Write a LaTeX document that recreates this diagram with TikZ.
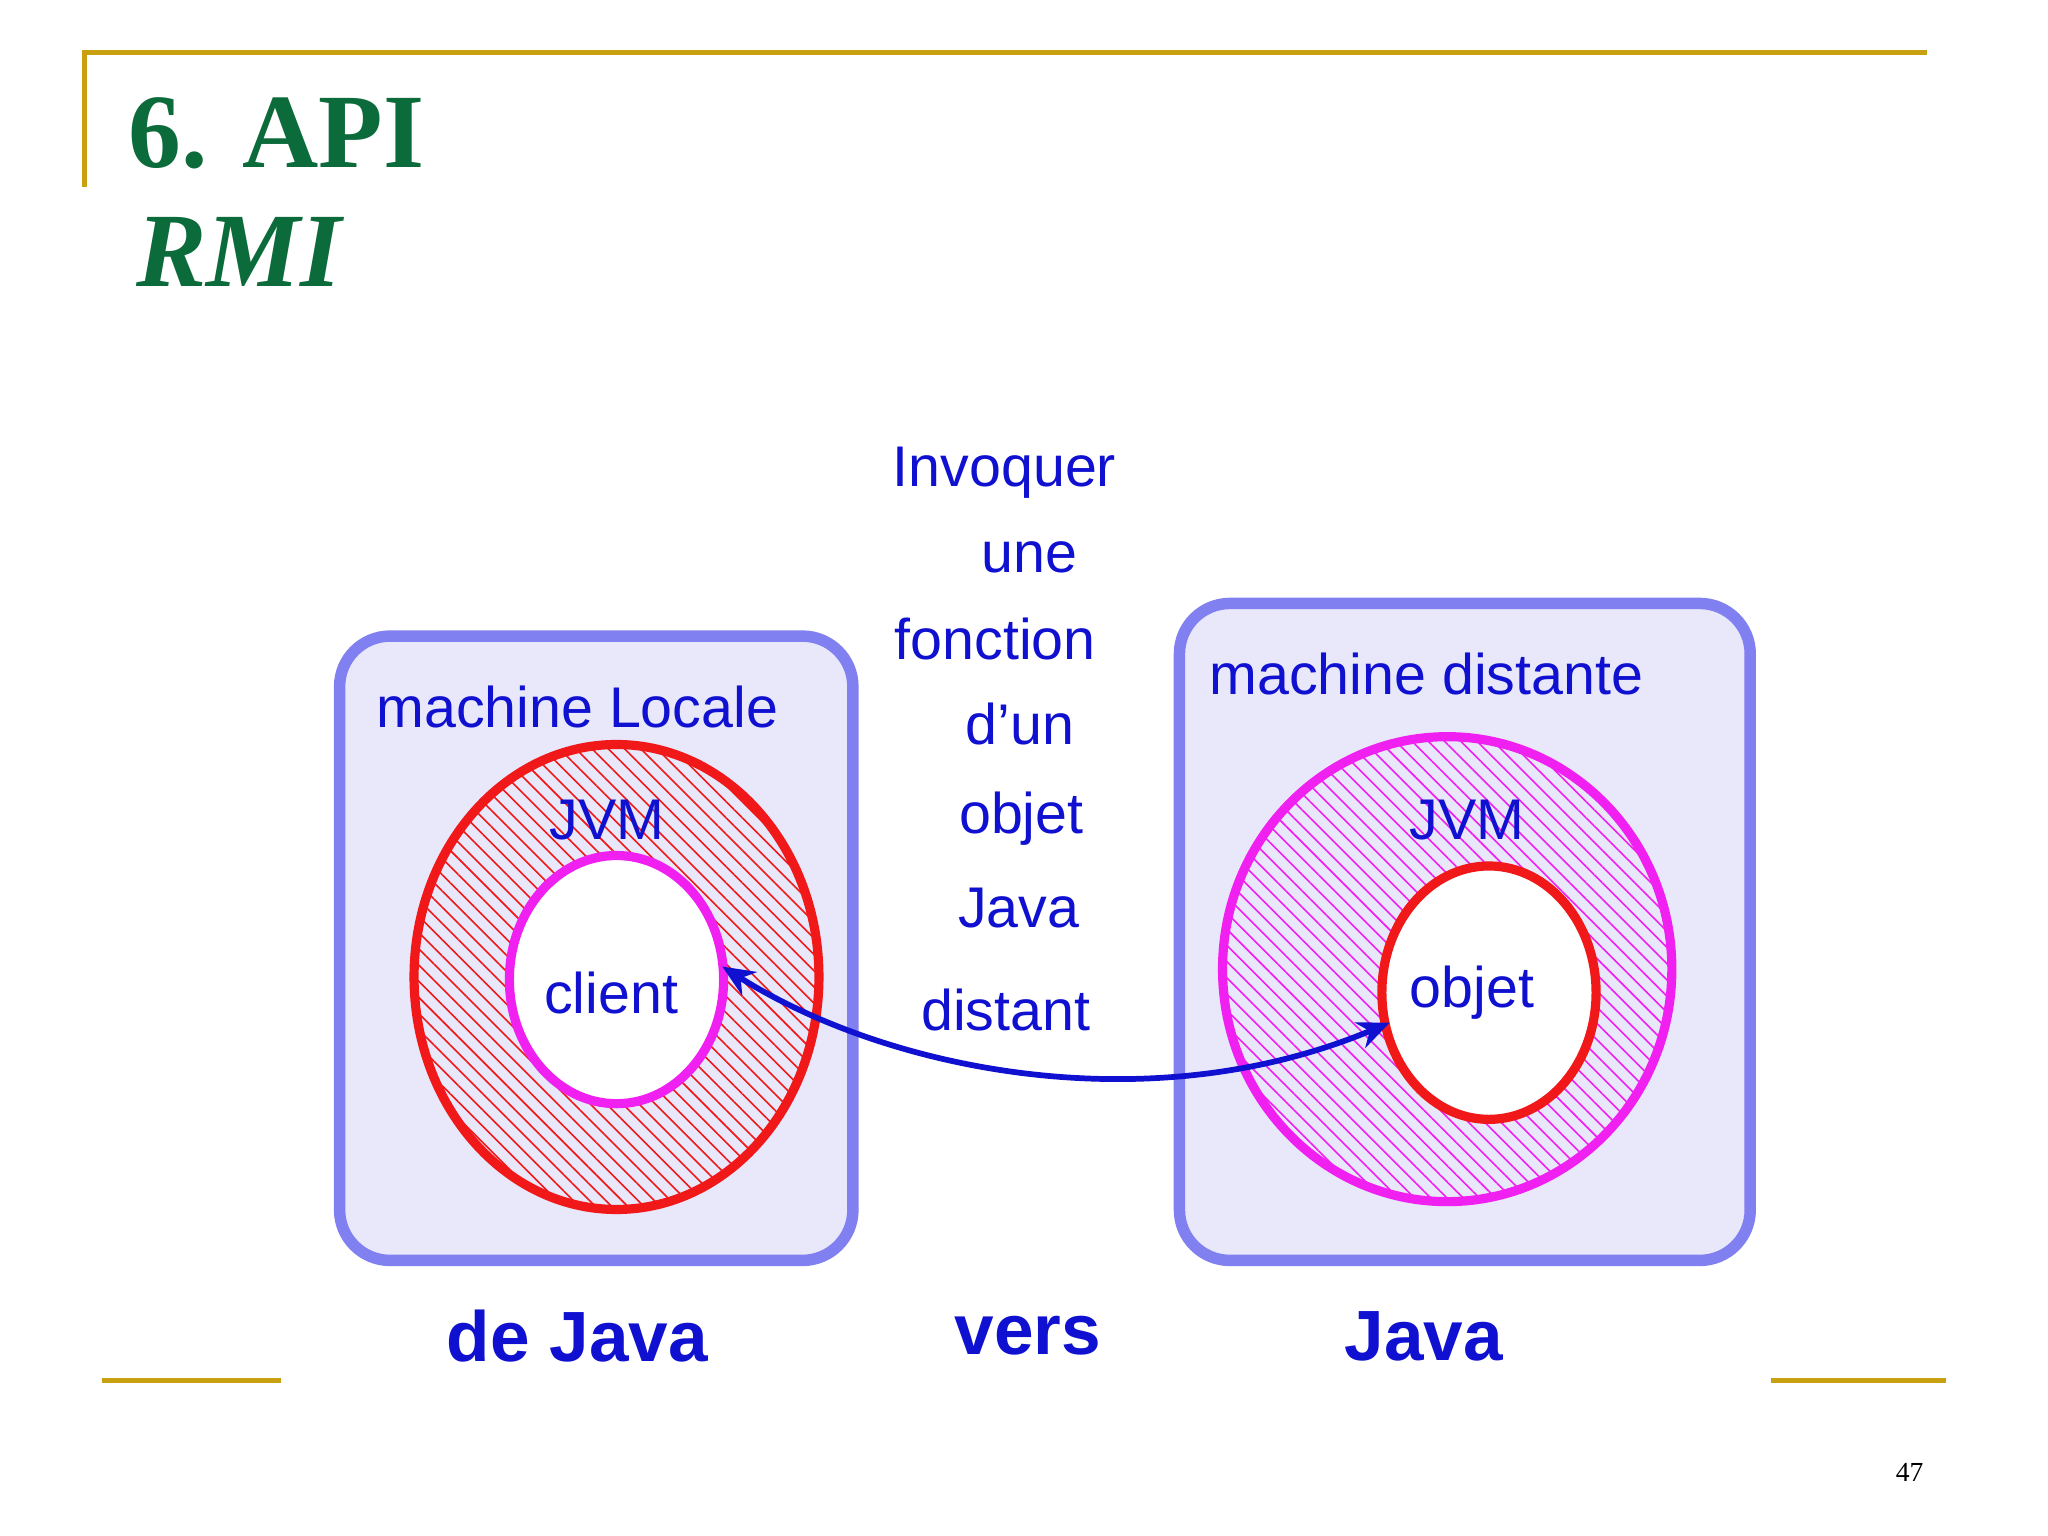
\documentclass[tikz,border=0pt]{standalone}
\usepackage{fontspec}
\setmainfont{Liberation Serif}
\newfontfamily\sans{Liberation Sans}
\usetikzlibrary{patterns.meta,arrows.meta}
\definecolor{gold}{HTML}{C8A010}
\definecolor{ttl}{HTML}{0B6B3A}
\definecolor{bl}{HTML}{1010D0}
\definecolor{boxb}{HTML}{8080F0}
\definecolor{boxf}{HTML}{E8E8FA}
\definecolor{rd}{HTML}{F01818}
\definecolor{mg}{HTML}{F020F0}
\begin{document}
\begin{tikzpicture}[x=0.02cm,y=-0.02cm,
  gl/.style={gold,line width=2.2pt},
  box/.style={draw=boxb,fill=boxf,line width=5pt,rounded corners=22pt},
  t/.style={text=bl,font=\sans\fontsize{25}{28}\selectfont},
  tb/.style={text=bl,font=\sans\bfseries\fontsize{31}{34}\selectfont},
  hatch/.style={even odd rule,pattern={Lines[angle=-45,distance=5pt,line width=0.7pt]}}]
\useasboundingbox (0,0) rectangle (1568,1176);
\draw[gl] (65,143) -- (65,40) -- (1475,40);
\draw[gl] (78,1057) -- (215,1057);
\draw[gl] (1356,1057) -- (1490,1057);
\node[anchor=west,text=ttl,font=\bfseries\fontsize{46}{50}\selectfont] (t1) at (92,102) {6. API};
\node[anchor=west,text=ttl,font=\bfseries\itshape\fontsize{46}{50}\selectfont] (t2) at (98,193) {RMI};
\node[font=\fontsize{12}{14}\selectfont] (pg) at (1462,1127) {47};
% boxes
\draw[box] (260,487) rectangle (653,965);
\draw[box] (903,462) rectangle (1340,965);
% left rings
\path[hatch,pattern color=rd] (472,748) ellipse [x radius=155,y radius=178] (472,750) ellipse [x radius=82,y radius=95];
\fill[white] (472,750) ellipse [x radius=82,y radius=95];
\draw[rd,line width=4pt] (472,748) ellipse [x radius=155,y radius=178];
\draw[mg,line width=4pt] (472,750) ellipse [x radius=82,y radius=95];
% right rings
\path[hatch,pattern color=mg] (1108,742) ellipse [x radius=172,y radius=178] (1140,760) ellipse [x radius=82,y radius=97];
\fill[white] (1140,760) ellipse [x radius=82,y radius=97];
\draw[mg,line width=4pt] (1108,742) ellipse [x radius=172,y radius=178];
\draw[rd,line width=4pt] (1140,760) ellipse [x radius=82,y radius=97];
% labels
\node[t] (ml) at (442,541) {machine Locale};
\node[t] (md) at (1092,516) {machine distante};
\node[t] (j1) at (465,628) {JVM};
\node[t] (j2) at (1123,628) {JVM};
\node[t] (cl) at (468,760) {client};
\node[t] (ob) at (1127,760) {objet};
\node[t] (m1) at (769,362) {Invoquer};
\node[t] (m2) at (788,427) {une};
\node[t] (m3) at (762,489) {fonction};
\node[t] (m4) at (781,554) {d’un};
\node[t] (m5) at (782,627) {objet};
\node[t] (m6) at (780,695) {Java};
\node[t] (m7) at (770,773) {distant};
\node[tb] (b1) at (442,1023) {de Java};
\node[tb] (b2) at (787,1023) {vers};
\node[tb] (b3) at (1090,1023) {Java};
\coordinate (pa) at (553,740);
\coordinate (pb) at (1064,783);
\draw[bl,line width=2.5pt,{Stealth[length=14pt,width=12pt]}-{Stealth[length=14pt,width=12pt]}] (pa) .. controls (680,820) and (880,860) .. (pb);
\end{tikzpicture}
\end{document}
